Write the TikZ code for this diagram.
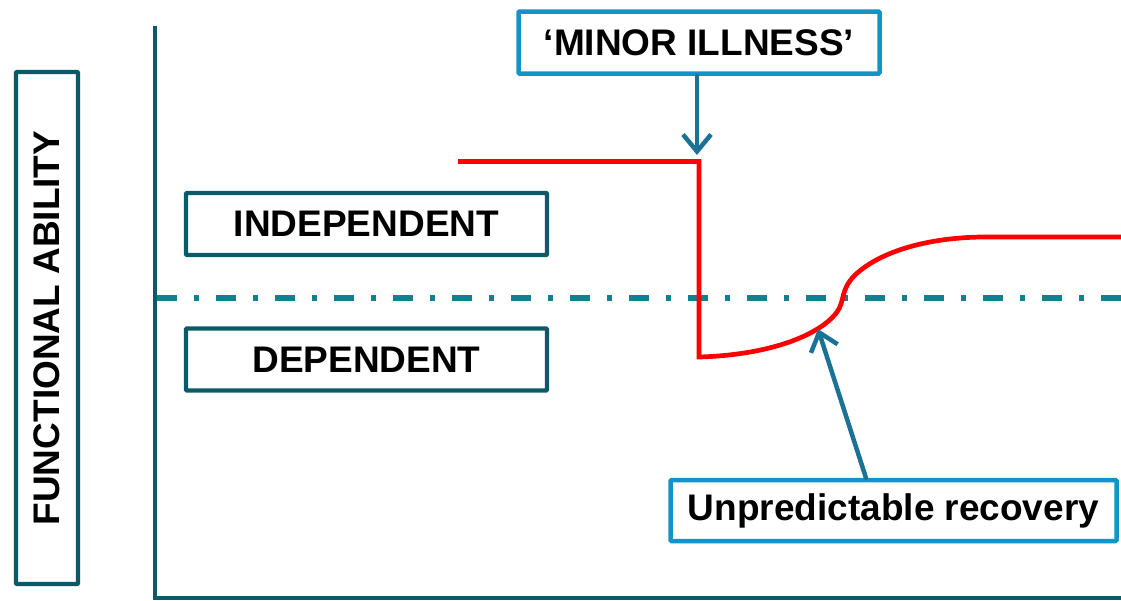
\documentclass[tikz,border=0pt]{standalone}
\usepackage{fontspec}
\setmainfont{Liberation Sans}
\usetikzlibrary{arrows.meta}
\definecolor{axisteal}{HTML}{0C5A68}
\definecolor{dashteal}{HTML}{13808F}
\definecolor{boxblue}{HTML}{1294C8}
\definecolor{arrowblue}{HTML}{1B7196}
\tikzset{
  tealbox/.style={draw=axisteal, line width=4.3pt, rounded corners=1pt, inner sep=0pt, font=\bfseries\fontsize{37}{40}\selectfont},
  bluebox/.style={draw=boxblue, line width=4.5pt, rounded corners=1pt, inner sep=0pt, font=\bfseries\fontsize{37}{40}\selectfont},
  pointer/.style={draw=arrowblue, line width=4.5pt, line cap=round, line join=round, -{Straight Barb[length=17pt,width=28pt]}},
  axisline/.style={draw=axisteal, line width=4.3pt},
  threshold/.style={draw=dashteal, line width=6pt, dash pattern=on 20pt off 17pt on 5pt off 17pt},
  curve/.style={draw=red, line width=4.7pt, line join=miter}
}
\begin{document}
\begin{tikzpicture}[x=1pt,y=-1pt]
\useasboundingbox (0,0) rectangle (1121,600);
% axes
\coordinate (ytop) at (155,26);
\coordinate (origin) at (155,598);
\coordinate (xend) at (1121,598);
\draw[axisline] (ytop) -- (origin) -- (xend);
% threshold
\coordinate (thl) at (157,298);
\coordinate (thr) at (1121,298);
\draw[threshold] (thl) -- (thr);
% label boxes
\node[tealbox, rotate=90, minimum width=512pt, minimum height=62pt] (fa) at (47,328) {FUNCTIONAL ABILITY};
\node[tealbox, minimum width=361pt, minimum height=62pt] (indep) at (366.5,224) {INDEPENDENT};
\node[tealbox, minimum width=361pt, minimum height=62pt] (dep) at (366.5,359.5) {DEPENDENT};
% red trajectory
\coordinate (r0) at (458,161.5);
\coordinate (r1) at (699,161.5);
\coordinate (r2) at (699,357);
\coordinate (r3) at (837,312);
\coordinate (r4) at (855,275);
\coordinate (r5) at (985,237);
\coordinate (r6) at (1121,237);
\draw[curve] (r0) -- (r1) -- (r2) .. controls (770,355) and (820,335) .. (r3) .. controls (845,301) and (840,290) .. (r4) .. controls (885,247) and (940,237) .. (r5) -- (r6);
% callouts
\node[bluebox, minimum width=361pt, minimum height=62pt] (minor) at (699,42.5) {‘MINOR ILLNESS’};
\node[bluebox, minimum width=446pt, minimum height=61pt] (unpred) at (893.5,510.5) {Unpredictable recovery};
\coordinate (minortip) at (697,155);
\draw[pointer] (minor.south -| minortip) -- (minortip);
\coordinate (unpredtail) at (866,478);
\coordinate (unpredtip) at (818,329);
\draw[pointer] (unpredtail) -- (unpredtip);
\end{tikzpicture}
\end{document}
